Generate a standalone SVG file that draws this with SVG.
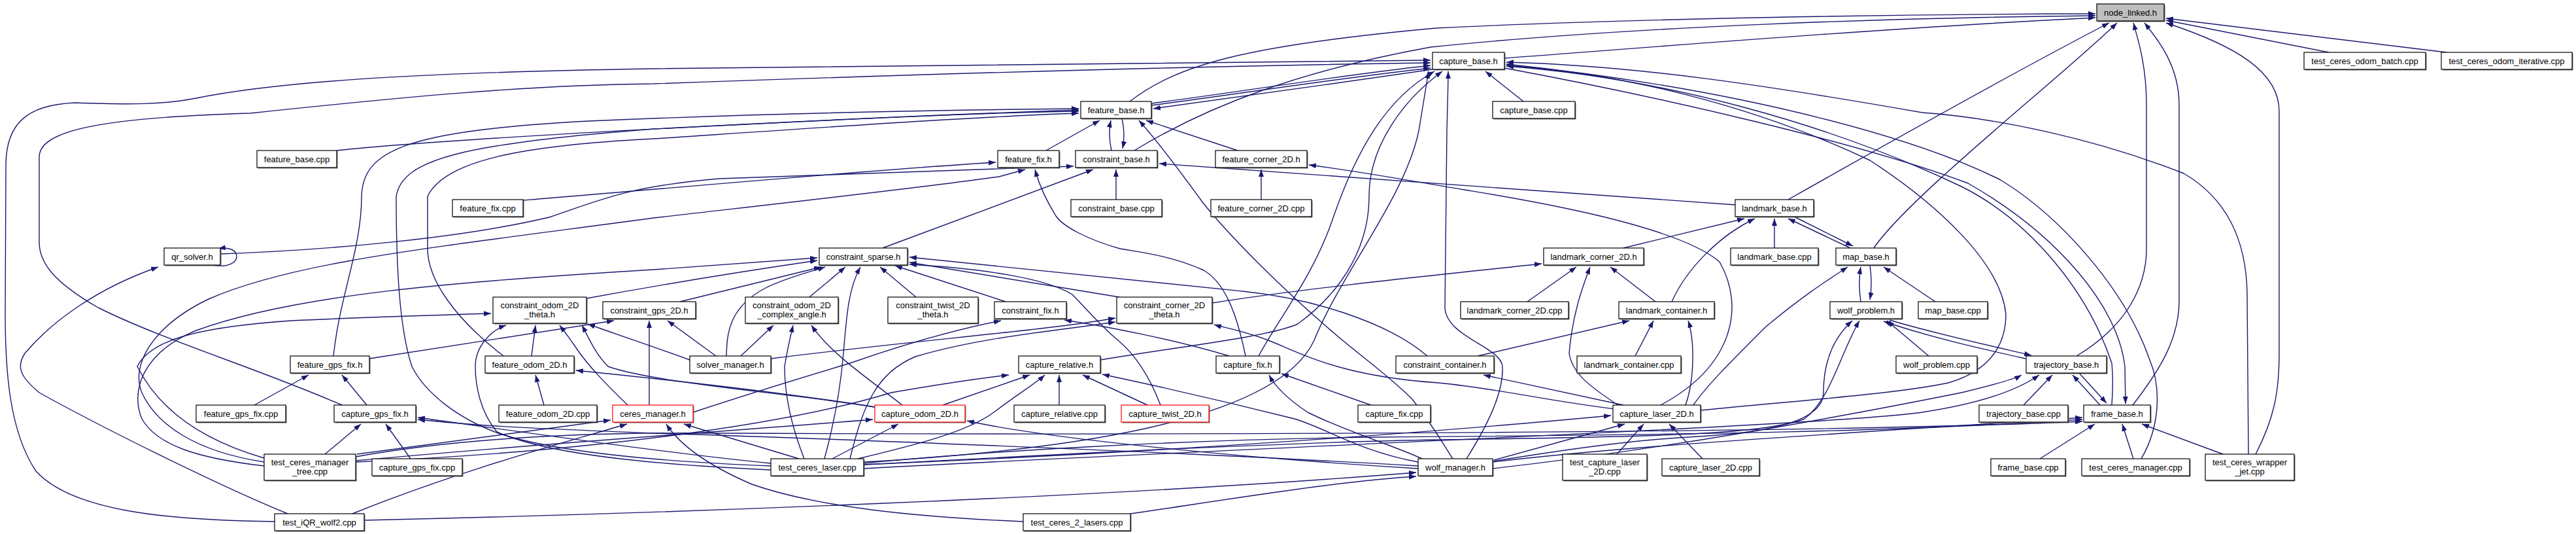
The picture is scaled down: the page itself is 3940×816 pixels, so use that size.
<svg xmlns="http://www.w3.org/2000/svg" width="3940" height="816" viewBox="0 0 3940 816">
<style>
.e{fill:none;stroke:#191970;stroke-width:1.4;marker-end:url(#ah)}
.node rect.b{fill:#fff;stroke:#000;stroke-width:1.2}
.node rect.sh{fill:#6a6a6a}
.node.red rect.b{stroke:#ff0000}
.node.cur rect.b{fill:#bfbfbf}
.node text{font-family:"Liberation Sans",Arial,Helvetica,sans-serif;font-size:13px;fill:#000;text-anchor:middle}
</style>
<defs>
<marker id="ah" markerUnits="userSpaceOnUse" markerWidth="11" markerHeight="8" viewBox="0 0 11 8" refX="11" refY="4" orient="auto"><path d="M0,0 L11,4 L0,8 z" fill="#191970"/></marker>
</defs>
<rect x="0" y="0" width="3940" height="816" fill="#fff"/>
<g id="edges">
<path class="e" d="M2301,89 C2550,70 2900,42 3205,27"/>
<path class="e" d="M1728,155 C1800,100 1900,70 2196,43 C2500,28 2900,22 3205,21"/>
<path class="e" d="M1735,230 C1850,160 1990,108 2188,72 C2500,40 2900,27 3205,24"/>
<path class="e" d="M2735,305 C2850,240 3100,100 3226,35"/>
<path class="e" d="M2866,379 C2920,300 3150,120 3238,35"/>
<path class="e" d="M3176,544 C3250,500 3283,440 3283,380 L3283,160 C3283,100 3270,60 3263,35"/>
<path class="e" d="M3262,619 C3300,570 3333,520 3333,460 L3333,160 C3333,100 3300,60 3280,35"/>
<path class="e" d="M3562,80 L3313,31"/>
<path class="e" d="M3742,80 L3313,28"/>
<path class="e" d="M3450,694 C3478,640 3486,600 3486,540 L3486,170 C3486,110 3420,70 3313,35"/>
<path class="e" d="M3439,694 L3437,450 C3436,360 3400,300 3340,265 C3200,210 3050,180 2940,172 C2700,130 2500,100 2304,95"/>
<path class="e" d="M3275,701 C3305,650 3305,590 3288,550 C3250,440 3150,330 3060,275 C2950,220 2700,140 2304,98"/>
<path class="e" d="M3230,619 C3232,590 3232,575 3230,555 C3195,450 3110,340 3000,285 C2800,190 2550,120 2304,101"/>
<path class="e" d="M2301,104 C2550,150 2850,220 3010,280 C3150,360 3240,470 3250,560 L3251,617"/>
<path class="e" d="M2330,155 L2272,109"/>
<path class="e" d="M2243,701 C2275,650 2300,600 2298,560 C2296,530 2212,515 2210,470 L2213,200 C2214,160 2215,130 2215,109"/>
<path class="e" d="M1925,544 C1960,480 2010,420 2040,330 C2075,230 2120,150 2194,109"/>
<path class="e" d="M1683,550 C1800,530 1940,515 1985,495 C2060,440 2094,370 2094,300 C2094,220 2150,150 2206,109"/>
<path class="e" d="M1321,706 C1600,690 1950,650 2010,520 C2050,420 2150,300 2170,200 L2185,109"/>
<path class="e" d="M2601,627 C2750,612 2900,602 2980,585 C3050,565 3068,520 3068,480 C3060,400 2960,310 2860,245 C2680,160 2480,112 2304,100"/>
<path class="e" d="M420,797 C250,795 110,780 55,720 C15,660 8,570 8,480 L9,250 C10,190 40,160 115,157 C200,160 250,160 300,150 C450,120 700,110 1000,105 C1500,96 1900,93 2188,92"/>
<path class="e" d="M523,619 C400,565 250,520 150,470 C80,430 60,400 60,370 L60,240 C60,200 150,180 383,173 C600,150 800,130 1000,128 C1500,110 1900,100 2188,96"/>
<path class="e" d="M1761,158 C1900,140 2050,115 2188,100"/>
<path class="e" d="M1761,161 C1900,143 2050,119 2188,104"/>
<path class="e" d="M2191,106 C2050,126 1900,148 1764,166"/>
<path class="e" d="M515,230 C700,210 1300,180 1650,168"/>
<path class="e" d="M510,544 C520,450 553,380 553,300 C555,230 620,200 900,185 C1200,172 1450,168 1650,166"/>
<path class="e" d="M1179,712 C1000,705 850,690 765,663 C700,640 650,600 630,560 C610,500 606,400 606,300 C615,245 700,220 1000,197 C1300,182 1500,172 1650,170"/>
<path class="e" d="M770,544 C700,490 654,430 654,380 L654,300 C680,245 800,222 1000,212 C1300,192 1500,178 1650,173"/>
<path class="e" d="M1600,230 L1682,184"/>
<path class="e" d="M1700,230 C1696,212 1696,198 1699,184"/>
<path class="e" d="M1716,181 C1720,198 1720,212 1717,227"/>
<path class="e" d="M1893,230 L1753,184"/>
<path class="e" d="M2222,701 C2205,675 2195,655 2160,610 C2120,570 2075,540 2030,500 C1960,440 1880,360 1840,310 C1800,255 1770,215 1742,184"/>
<path class="e" d="M338,388 C500,382 700,365 840,332 C920,305 960,285 1100,273 C1400,264 1550,258 1642,254"/>
<path class="e" d="M1350,379 L1672,259"/>
<path class="e" d="M1707,305 L1707,259"/>
<path class="e" d="M2654,313 C2300,285 2000,265 1773,250"/>
<path class="e" d="M800,306 C1000,290 1300,262 1523,248"/>
<path class="e" d="M1905,544 C1890,470 1870,430 1841,413 C1790,390 1740,385 1713,380 C1660,365 1625,345 1615,330 C1600,305 1590,285 1583,259"/>
<path class="e" d="M404,706 C300,690 240,650 217,600 C200,560 230,500 319,457 C450,400 650,380 1000,333 C1200,310 1400,288 1528,270 L1568,259"/>
<path class="e" d="M1929,305 L1929,259"/>
<path class="e" d="M2540,619 C2650,560 2670,470 2630,400 C2560,340 2300,300 2240,290 C2150,275 2080,262 2002,252"/>
<path class="e" d="M2483,379 L2668,334"/>
<path class="e" d="M2557,461 C2580,410 2630,360 2684,334"/>
<path class="e" d="M2714,379 L2714,334"/>
<path class="e" d="M2830,379 L2735,334"/>
<path class="e" d="M2744,331 L2834,376"/>
<path class="e" d="M2846,461 C2843,440 2843,425 2846,408"/>
<path class="e" d="M2860,405 C2863,425 2863,440 2860,458"/>
<path class="e" d="M2960,461 L2881,408"/>
<path class="e" d="M2590,619 C2610,590 2640,560 2700,500 C2760,450 2800,425 2826,408"/>
<path class="e" d="M440,785 C330,740 150,650 60,600 C30,575 25,560 38,540 C80,490 150,440 242,408"/>
<path class="e" d="M325,405 C350,410 362,400 362,392 C362,383 352,377 334,380"/>
<path class="e" d="M1238,454 L1293,408"/>
<path class="e" d="M1401,454 L1346,408"/>
<path class="e" d="M1538,461 L1369,406"/>
<path class="e" d="M1712,454 L1391,401"/>
<path class="e" d="M897,456 C1000,437 1100,420 1250,398"/>
<path class="e" d="M1040,461 L1256,408"/>
<path class="e" d="M1111,544 C1112,510 1114,470 1171,440 C1200,425 1240,415 1262,408"/>
<path class="e" d="M1261,701 C1275,650 1285,600 1290,540 C1295,480 1298,440 1316,408"/>
<path class="e" d="M404,712 C300,700 240,680 217,640 C200,600 215,540 300,505 C450,450 700,430 1000,412 C1100,405 1200,398 1250,394"/>
<path class="e" d="M2183,544 C2120,490 2000,455 1900,445 C1700,425 1500,403 1391,393"/>
<path class="e" d="M1775,619 C1760,580 1740,545 1710,520 C1680,495 1660,470 1640,450 C1600,425 1500,410 1391,404"/>
<path class="e" d="M404,700 C300,670 240,620 210,560 C230,520 300,500 446,490 C550,485 650,482 751,479"/>
<path class="e" d="M1179,718 C1050,712 850,700 760,660 C735,630 727,590 727,560 C727,530 750,505 774,497"/>
<path class="e" d="M813,544 L819,497"/>
<path class="e" d="M960,619 C930,590 900,560 880,530 C870,515 862,505 856,497"/>
<path class="e" d="M1055,550 C1000,530 940,510 899,495"/>
<path class="e" d="M1338,622 C1200,600 1000,585 930,560 C910,540 900,515 890,497"/>
<path class="e" d="M565,548 L939,490"/>
<path class="e" d="M993,619 L993,490"/>
<path class="e" d="M1095,544 L1021,490"/>
<path class="e" d="M1133,544 L1183,497"/>
<path class="e" d="M1230,701 C1210,650 1200,600 1200,560 C1205,530 1210,510 1213,497"/>
<path class="e" d="M1380,619 C1330,580 1270,540 1241,497"/>
<path class="e" d="M1060,630 C1150,600 1250,570 1300,555 C1400,520 1480,500 1531,490"/>
<path class="e" d="M1880,544 C1800,520 1700,500 1628,489"/>
<path class="e" d="M1179,548 C1400,520 1600,505 1706,486"/>
<path class="e" d="M1300,701 C1320,620 1340,570 1400,545 C1500,515 1620,505 1706,492"/>
<path class="e" d="M2470,625 C2350,610 2300,595 2200,585 C2050,575 1990,540 1940,520 C1900,505 1870,500 1857,496"/>
<path class="e" d="M2260,544 L2492,490"/>
<path class="e" d="M2501,544 L2529,490"/>
<path class="e" d="M2578,619 C2592,580 2592,520 2582,490"/>
<path class="e" d="M2336,461 L2411,408"/>
<path class="e" d="M2532,461 L2463,408"/>
<path class="e" d="M1854,463 C2000,440 2200,420 2358,403"/>
<path class="e" d="M2475,619 C2430,590 2405,570 2400,540 C2405,480 2420,440 2432,408"/>
<path class="e" d="M2283,705 C2400,686 2500,672 2598,667 C2720,660 2789,640 2789,600 C2789,560 2800,520 2833,490"/>
<path class="e" d="M1321,710 C1700,690 2000,675 2200,672 C2500,668 2700,665 2760,640 C2800,610 2815,540 2844,490"/>
<path class="e" d="M2950,544 L2886,490"/>
<path class="e" d="M2890,489 C2960,510 3060,532 3107,543"/>
<path class="e" d="M3098,548 C3040,535 2950,515 2881,491"/>
<path class="e" d="M3095,619 L3139,573"/>
<path class="e" d="M3212,619 L3170,573"/>
<path class="e" d="M3180,570 L3222,616"/>
<path class="e" d="M2283,716 C2600,680 2900,620 3000,600 C3050,588 3080,580 3092,573"/>
<path class="e" d="M1321,716 C2000,680 2800,650 2940,630 C3020,618 3080,600 3119,573"/>
<path class="e" d="M3120,701 L3204,648"/>
<path class="e" d="M3263,701 L3246,648"/>
<path class="e" d="M3400,694 L3276,648"/>
<path class="e" d="M2283,706 C2500,680 2800,664 3185,638"/>
<path class="e" d="M1321,708 C1500,690 1800,672 2100,668 C2600,664 2900,660 3185,641"/>
<path class="e" d="M544,698 C700,670 900,660 1100,662 C1800,665 2800,662 3185,644"/>
<path class="e" d="M497,694 L552,648"/>
<path class="e" d="M628,701 L590,648"/>
<path class="e" d="M1179,708 C1000,690 800,660 639,638"/>
<path class="e" d="M2169,712 C1800,690 1200,668 1000,662 C850,656 740,652 639,641"/>
<path class="e" d="M389,619 L472,573"/>
<path class="e" d="M561,619 L523,573"/>
<path class="e" d="M832,619 L819,573"/>
<path class="e" d="M1338,622 C1200,600 1000,578 881,566"/>
<path class="e" d="M546,694 L934,642"/>
<path class="e" d="M539,785 C700,720 850,680 959,648"/>
<path class="e" d="M1565,797 C1400,790 1250,775 1150,740 C1080,710 1040,680 1019,648"/>
<path class="e" d="M1222,701 L1046,648"/>
<path class="e" d="M544,704 C800,680 1100,660 1335,641"/>
<path class="e" d="M1273,701 L1374,648"/>
<path class="e" d="M2169,716 C1900,700 1600,670 1479,643"/>
<path class="e" d="M1442,619 L1575,573"/>
<path class="e" d="M1620,619 L1620,573"/>
<path class="e" d="M1755,619 L1656,573"/>
<path class="e" d="M1312,701 C1400,680 1480,660 1520,630 C1560,600 1585,585 1598,573"/>
<path class="e" d="M2169,706 C2080,690 2030,655 1980,640 C1880,615 1780,592 1686,572"/>
<path class="e" d="M544,706 C900,690 1200,650 1363,600 C1450,585 1500,578 1543,573"/>
<path class="e" d="M2097,619 L1960,571"/>
<path class="e" d="M2175,701 C2130,680 2060,660 2000,630 C1970,610 1950,590 1941,573"/>
<path class="e" d="M2483,619 L2269,573"/>
<path class="e" d="M2473,694 L2514,648"/>
<path class="e" d="M2604,701 L2553,648"/>
<path class="e" d="M2285,703 L2485,648"/>
<path class="e" d="M1321,710 C1800,690 2200,660 2464,635"/>
<path class="e" d="M557,795 C1000,785 1700,760 2166,722"/>
<path class="e" d="M1729,785 C1900,760 2050,735 2166,728"/>
</g>
<g id="n_node_linked" class="node cur"><rect class="sh" x="3208.5" y="7.5" width="103" height="26"/><rect class="b" x="3207" y="6" width="103" height="26"/><text x="3258.5" y="23.5">node_linked.h</text></g>
<g id="n_capture_base_h" class="node"><rect class="sh" x="2192.5" y="81.5" width="110" height="26"/><rect class="b" x="2191" y="80" width="110" height="26"/><text x="2246" y="97.5">capture_base.h</text></g>
<g id="n_test_ceres_odom_batch" class="node"><rect class="sh" x="3525.5" y="81.5" width="186" height="26"/><rect class="b" x="3524" y="80" width="186" height="26"/><text x="3617" y="97.5">test_ceres_odom_batch.cpp</text></g>
<g id="n_test_ceres_odom_iterative" class="node"><rect class="sh" x="3735.5" y="81.5" width="200" height="26"/><rect class="b" x="3734" y="80" width="200" height="26"/><text x="3834" y="97.5">test_ceres_odom_iterative.cpp</text></g>
<g id="n_feature_base_h" class="node"><rect class="sh" x="1654.5" y="156.5" width="108" height="26"/><rect class="b" x="1653" y="155" width="108" height="26"/><text x="1707" y="172.5">feature_base.h</text></g>
<g id="n_capture_base_cpp" class="node"><rect class="sh" x="2284.5" y="156.5" width="126" height="26"/><rect class="b" x="2283" y="155" width="126" height="26"/><text x="2346" y="172.5">capture_base.cpp</text></g>
<g id="n_feature_base_cpp" class="node"><rect class="sh" x="394.5" y="231.5" width="122" height="26"/><rect class="b" x="393" y="230" width="122" height="26"/><text x="454" y="247.5">feature_base.cpp</text></g>
<g id="n_feature_fix_h" class="node"><rect class="sh" x="1527.5" y="231.5" width="94" height="26"/><rect class="b" x="1526" y="230" width="94" height="26"/><text x="1573" y="247.5">feature_fix.h</text></g>
<g id="n_constraint_base_h" class="node"><rect class="sh" x="1646.5" y="231.5" width="125" height="26"/><rect class="b" x="1645" y="230" width="125" height="26"/><text x="1707.5" y="247.5">constraint_base.h</text></g>
<g id="n_feature_corner_2D_h" class="node"><rect class="sh" x="1860.5" y="231.5" width="140" height="26"/><rect class="b" x="1859" y="230" width="140" height="26"/><text x="1929" y="247.5">feature_corner_2D.h</text></g>
<g id="n_feature_fix_cpp" class="node"><rect class="sh" x="693.5" y="306.5" width="108" height="26"/><rect class="b" x="692" y="305" width="108" height="26"/><text x="746" y="322.5">feature_fix.cpp</text></g>
<g id="n_constraint_base_cpp" class="node"><rect class="sh" x="1639.5" y="306.5" width="139" height="26"/><rect class="b" x="1638" y="305" width="139" height="26"/><text x="1707.5" y="322.5">constraint_base.cpp</text></g>
<g id="n_feature_corner_2D_cpp" class="node"><rect class="sh" x="1853.5" y="306.5" width="154" height="26"/><rect class="b" x="1852" y="305" width="154" height="26"/><text x="1929" y="322.5">feature_corner_2D.cpp</text></g>
<g id="n_landmark_base_h" class="node"><rect class="sh" x="2655.5" y="306.5" width="120" height="26"/><rect class="b" x="2654" y="305" width="120" height="26"/><text x="2714" y="322.5">landmark_base.h</text></g>
<g id="n_qr_solver_h" class="node"><rect class="sh" x="252.5" y="380.5" width="86" height="26"/><rect class="b" x="251" y="379" width="86" height="26"/><text x="294" y="396.5">qr_solver.h</text></g>
<g id="n_constraint_sparse_h" class="node"><rect class="sh" x="1254.5" y="380.5" width="135" height="26"/><rect class="b" x="1253" y="379" width="135" height="26"/><text x="1320.5" y="396.5">constraint_sparse.h</text></g>
<g id="n_landmark_corner_2D_h" class="node"><rect class="sh" x="2362.5" y="380.5" width="153" height="26"/><rect class="b" x="2361" y="379" width="153" height="26"/><text x="2437.5" y="396.5">landmark_corner_2D.h</text></g>
<g id="n_landmark_base_cpp" class="node"><rect class="sh" x="2648.5" y="380.5" width="134" height="26"/><rect class="b" x="2647" y="379" width="134" height="26"/><text x="2714" y="396.5">landmark_base.cpp</text></g>
<g id="n_map_base_h" class="node"><rect class="sh" x="2809.5" y="380.5" width="92" height="26"/><rect class="b" x="2808" y="379" width="92" height="26"/><text x="2854" y="396.5">map_base.h</text></g>
<g id="n_constraint_odom_2D_theta" class="node"><rect class="sh" x="755.5" y="455.5" width="143" height="40"/><rect class="b" x="754" y="454" width="143" height="40"/><text x="825.5" y="471">constraint_odom_2D</text><text x="825.5" y="485">_theta.h</text></g>
<g id="n_constraint_gps_2D" class="node"><rect class="sh" x="923.5" y="462.5" width="142" height="26"/><rect class="b" x="922" y="461" width="142" height="26"/><text x="993" y="478.5">constraint_gps_2D.h</text></g>
<g id="n_constraint_odom_2D_complex_angle" class="node"><rect class="sh" x="1141.5" y="455.5" width="142" height="40"/><rect class="b" x="1140" y="454" width="142" height="40"/><text x="1211" y="471">constraint_odom_2D</text><text x="1211" y="485">_complex_angle.h</text></g>
<g id="n_constraint_twist_2D_theta" class="node"><rect class="sh" x="1359.5" y="455.5" width="138" height="40"/><rect class="b" x="1358" y="454" width="138" height="40"/><text x="1427" y="471">constraint_twist_2D</text><text x="1427" y="485">_theta.h</text></g>
<g id="n_constraint_fix" class="node"><rect class="sh" x="1522.5" y="462.5" width="110" height="26"/><rect class="b" x="1521" y="461" width="110" height="26"/><text x="1576" y="478.5">constraint_fix.h</text></g>
<g id="n_constraint_corner_2D_theta" class="node"><rect class="sh" x="1709.5" y="455.5" width="146" height="40"/><rect class="b" x="1708" y="454" width="146" height="40"/><text x="1781" y="471">constraint_corner_2D</text><text x="1781" y="485">_theta.h</text></g>
<g id="n_landmark_corner_2D_cpp" class="node"><rect class="sh" x="2235.5" y="462.5" width="165" height="26"/><rect class="b" x="2234" y="461" width="165" height="26"/><text x="2316.5" y="478.5">landmark_corner_2D.cpp</text></g>
<g id="n_landmark_container_h" class="node"><rect class="sh" x="2477.5" y="462.5" width="146" height="26"/><rect class="b" x="2476" y="461" width="146" height="26"/><text x="2549" y="478.5">landmark_container.h</text></g>
<g id="n_wolf_problem_h" class="node"><rect class="sh" x="2800.5" y="462.5" width="110" height="26"/><rect class="b" x="2799" y="461" width="110" height="26"/><text x="2854" y="478.5">wolf_problem.h</text></g>
<g id="n_map_base_cpp" class="node"><rect class="sh" x="2935.5" y="462.5" width="106" height="26"/><rect class="b" x="2934" y="461" width="106" height="26"/><text x="2987" y="478.5">map_base.cpp</text></g>
<g id="n_feature_gps_fix_h" class="node"><rect class="sh" x="445.5" y="545.5" width="121" height="26"/><rect class="b" x="444" y="544" width="121" height="26"/><text x="504.5" y="561.5">feature_gps_fix.h</text></g>
<g id="n_feature_odom_2D_h" class="node"><rect class="sh" x="743.5" y="545.5" width="136" height="26"/><rect class="b" x="742" y="544" width="136" height="26"/><text x="810" y="561.5">feature_odom_2D.h</text></g>
<g id="n_solver_manager_h" class="node"><rect class="sh" x="1056.5" y="545.5" width="124" height="26"/><rect class="b" x="1055" y="544" width="124" height="26"/><text x="1117" y="561.5">solver_manager.h</text></g>
<g id="n_capture_relative_h" class="node"><rect class="sh" x="1559.5" y="545.5" width="125" height="26"/><rect class="b" x="1558" y="544" width="125" height="26"/><text x="1620.5" y="561.5">capture_relative.h</text></g>
<g id="n_capture_fix_h" class="node"><rect class="sh" x="1861.5" y="545.5" width="97" height="26"/><rect class="b" x="1860" y="544" width="97" height="26"/><text x="1908.5" y="561.5">capture_fix.h</text></g>
<g id="n_constraint_container_h" class="node"><rect class="sh" x="2136.5" y="545.5" width="150" height="26"/><rect class="b" x="2135" y="544" width="150" height="26"/><text x="2210" y="561.5">constraint_container.h</text></g>
<g id="n_landmark_container_cpp" class="node"><rect class="sh" x="2413.5" y="545.5" width="159" height="26"/><rect class="b" x="2412" y="544" width="159" height="26"/><text x="2491.5" y="561.5">landmark_container.cpp</text></g>
<g id="n_wolf_problem_cpp" class="node"><rect class="sh" x="2901.5" y="545.5" width="124" height="26"/><rect class="b" x="2900" y="544" width="124" height="26"/><text x="2962" y="561.5">wolf_problem.cpp</text></g>
<g id="n_trajectory_base_h" class="node"><rect class="sh" x="3100.5" y="545.5" width="123" height="26"/><rect class="b" x="3099" y="544" width="123" height="26"/><text x="3160.5" y="561.5">trajectory_base.h</text></g>
<g id="n_feature_gps_fix_cpp" class="node"><rect class="sh" x="301.5" y="620.5" width="137" height="26"/><rect class="b" x="300" y="619" width="137" height="26"/><text x="368.5" y="636.5">feature_gps_fix.cpp</text></g>
<g id="n_capture_gps_fix_h" class="node"><rect class="sh" x="512.5" y="620.5" width="125" height="26"/><rect class="b" x="511" y="619" width="125" height="26"/><text x="573.5" y="636.5">capture_gps_fix.h</text></g>
<g id="n_feature_odom_2D_cpp" class="node"><rect class="sh" x="764.5" y="620.5" width="150" height="26"/><rect class="b" x="763" y="619" width="150" height="26"/><text x="838" y="636.5">feature_odom_2D.cpp</text></g>
<g id="n_ceres_manager_h" class="node red"><rect class="sh" x="938.5" y="620.5" width="123" height="26"/><rect class="b" x="937" y="619" width="123" height="26"/><text x="998.5" y="636.5">ceres_manager.h</text></g>
<g id="n_capture_odom_2D_h" class="node red"><rect class="sh" x="1339.5" y="620.5" width="138" height="26"/><rect class="b" x="1338" y="619" width="138" height="26"/><text x="1407" y="636.5">capture_odom_2D.h</text></g>
<g id="n_capture_relative_cpp" class="node"><rect class="sh" x="1552.5" y="620.5" width="139" height="26"/><rect class="b" x="1551" y="619" width="139" height="26"/><text x="1620.5" y="636.5">capture_relative.cpp</text></g>
<g id="n_capture_twist_2D_h" class="node red"><rect class="sh" x="1716.5" y="620.5" width="134" height="26"/><rect class="b" x="1715" y="619" width="134" height="26"/><text x="1782" y="636.5">capture_twist_2D.h</text></g>
<g id="n_capture_fix_cpp" class="node"><rect class="sh" x="2078.5" y="620.5" width="111" height="26"/><rect class="b" x="2077" y="619" width="111" height="26"/><text x="2132.5" y="636.5">capture_fix.cpp</text></g>
<g id="n_capture_laser_2D_h" class="node"><rect class="sh" x="2468.5" y="620.5" width="134" height="26"/><rect class="b" x="2467" y="619" width="134" height="26"/><text x="2534" y="636.5">capture_laser_2D.h</text></g>
<g id="n_trajectory_base_cpp" class="node"><rect class="sh" x="3028.5" y="620.5" width="136" height="26"/><rect class="b" x="3027" y="619" width="136" height="26"/><text x="3095" y="636.5">trajectory_base.cpp</text></g>
<g id="n_frame_base_h" class="node"><rect class="sh" x="3188.5" y="620.5" width="102" height="26"/><rect class="b" x="3187" y="619" width="102" height="26"/><text x="3238" y="636.5">frame_base.h</text></g>
<g id="n_test_ceres_manager_tree" class="node"><rect class="sh" x="405.5" y="695.5" width="140" height="40"/><rect class="b" x="404" y="694" width="140" height="40"/><text x="474" y="711">test_ceres_manager</text><text x="474" y="725">_tree.cpp</text></g>
<g id="n_capture_gps_fix_cpp" class="node"><rect class="sh" x="570.5" y="702.5" width="138" height="26"/><rect class="b" x="569" y="701" width="138" height="26"/><text x="638" y="718.5">capture_gps_fix.cpp</text></g>
<g id="n_test_ceres_laser" class="node"><rect class="sh" x="1180.5" y="702.5" width="142" height="26"/><rect class="b" x="1179" y="701" width="142" height="26"/><text x="1250" y="718.5">test_ceres_laser.cpp</text></g>
<g id="n_wolf_manager_h" class="node"><rect class="sh" x="2170.5" y="702.5" width="114" height="26"/><rect class="b" x="2169" y="701" width="114" height="26"/><text x="2226" y="718.5">wolf_manager.h</text></g>
<g id="n_test_capture_laser_2D" class="node"><rect class="sh" x="2391.5" y="695.5" width="129" height="40"/><rect class="b" x="2390" y="694" width="129" height="40"/><text x="2454.5" y="711">test_capture_laser</text><text x="2454.5" y="725">_2D.cpp</text></g>
<g id="n_capture_laser_2D_cpp" class="node"><rect class="sh" x="2543.5" y="702.5" width="149" height="26"/><rect class="b" x="2542" y="701" width="149" height="26"/><text x="2616.5" y="718.5">capture_laser_2D.cpp</text></g>
<g id="n_frame_base_cpp" class="node"><rect class="sh" x="3046.5" y="702.5" width="114" height="26"/><rect class="b" x="3045" y="701" width="114" height="26"/><text x="3102" y="718.5">frame_base.cpp</text></g>
<g id="n_test_ceres_manager" class="node"><rect class="sh" x="3185.5" y="702.5" width="165" height="26"/><rect class="b" x="3184" y="701" width="165" height="26"/><text x="3266.5" y="718.5">test_ceres_manager.cpp</text></g>
<g id="n_test_ceres_wrapper_jet" class="node"><rect class="sh" x="3374.5" y="695.5" width="136" height="40"/><rect class="b" x="3373" y="694" width="136" height="40"/><text x="3441" y="711">test_ceres_wrapper</text><text x="3441" y="725">_jet.cpp</text></g>
<g id="n_test_iQR_wolf2" class="node"><rect class="sh" x="421.5" y="786.5" width="137" height="26"/><rect class="b" x="420" y="785" width="137" height="26"/><text x="488.5" y="802.5">test_iQR_wolf2.cpp</text></g>
<g id="n_test_ceres_2_lasers" class="node"><rect class="sh" x="1566.5" y="786.5" width="164" height="26"/><rect class="b" x="1565" y="785" width="164" height="26"/><text x="1647" y="802.5">test_ceres_2_lasers.cpp</text></g>
</svg>
